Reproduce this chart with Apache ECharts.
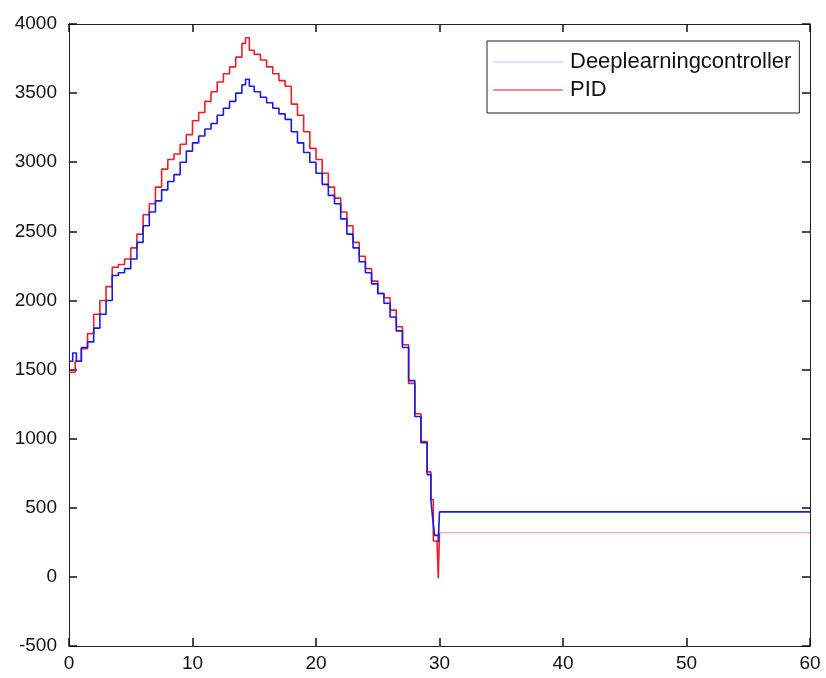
<!DOCTYPE html>
<html>
<head>
<meta charset="utf-8">
<script src="https://cdn.jsdelivr.net/npm/echarts@6/dist/echarts.min.js"></script>
<style>
  html, body { margin: 0; padding: 0; background: #fff; }
  #chart { width: 826px; height: 678px; }
</style>
</head>
<body>
<div id="chart"></div>
<script>
// Time stamps (s) and responses for the two controllers
const dlTime = [0, 0.3, 0.6, 1.0, 1.5, 2.0, 2.5, 3.0, 3.5, 4.0, 4.5, 5.0, 5.5, 6.0, 6.5, 7.0, 7.5, 8.0, 8.5, 9.0, 9.5,
  10.0, 10.5, 11.0, 11.5, 12.0, 12.5, 13.0, 13.5, 14.0, 14.3, 14.6, 15.0, 15.5, 16.0, 16.5, 17.0, 17.5, 18.0, 18.5,
  19.0, 19.5, 20.0, 20.5, 21.0, 21.5, 22.0, 22.5, 23.0, 23.5, 24.0, 24.5, 25.0, 25.5, 26.0, 26.5, 27.0, 27.5, 28.0,
  28.5, 29.0, 29.3, 29.45, 29.6, 29.9, 30.0, 60];
const dlValue = [1560, 1620, 1560, 1660, 1700, 1800, 1900, 2000, 2180, 2200, 2230, 2300, 2420, 2540, 2640, 2720, 2800, 2860, 2910, 3000, 3080,
  3140, 3190, 3240, 3280, 3340, 3390, 3440, 3500, 3560, 3600, 3550, 3510, 3470, 3430, 3390, 3350, 3310, 3220, 3140,
  3070, 3000, 2920, 2840, 2760, 2700, 2590, 2480, 2380, 2280, 2200, 2120, 2050, 1980, 1880, 1780, 1660, 1420, 1160,
  970, 740, 560, 420, 300, 250, 470, 470];

const pidTime = [0, 0.5, 1.0, 1.5, 2.0, 2.5, 3.0, 3.5, 4.0, 4.5, 5.0, 5.5, 6.0, 6.5, 7.0, 7.5, 8.0, 8.5, 9.0, 9.5,
  10.0, 10.5, 11.0, 11.5, 12.0, 12.5, 13.0, 13.5, 14.0, 14.3, 14.6, 15.0, 15.5, 16.0, 16.5, 17.0, 17.5, 18.0, 18.5,
  19.0, 19.5, 20.0, 20.5, 21.0, 21.5, 22.0, 22.5, 23.0, 23.5, 24.0, 24.5, 25.0, 25.5, 26.0, 26.5, 27.0, 27.5, 28.0,
  28.5, 29.0, 29.3, 29.5, 29.8, 29.9, 30.0];
const pidValue = [1480, 1560, 1650, 1760, 1900, 2000, 2100, 2240, 2260, 2300, 2380, 2480, 2620, 2700, 2820, 2950, 3020, 3060, 3130, 3200,
  3300, 3360, 3440, 3510, 3580, 3640, 3690, 3760, 3860, 3900, 3810, 3780, 3740, 3690, 3640, 3590, 3550, 3420, 3340,
  3220, 3100, 3020, 2920, 2820, 2740, 2640, 2540, 2420, 2320, 2230, 2140, 2050, 2020, 1930, 1810, 1680, 1400, 1180,
  980, 760, 560, 260, 250, -10, 320];
// settled PID level after the transient
const pidTailTime = [30.0, 60];
const pidTailValue = [320, 320];

const seriesNames = ['Deeplearningcontroller', 'PID'];
const xTicks = [0, 10, 20, 30, 40, 50, 60];
const yTicks = [-500, 0, 500, 1000, 1500, 2000, 2500, 3000, 3500, 4000];

const zip = (t, v) => t.map((x, i) => [x, v[i]]);

const chart = echarts.init(document.getElementById('chart'), null, { renderer: 'canvas' });

const labelFont = { fontFamily: 'Liberation Sans, Arial, sans-serif', fontSize: 19, color: '#111' };
const plain = v => String(v);

// every side of the box carries inward-pointing ticks
function boxAxis(position, lo, hi, step, label) {
  return {
    type: 'value', position: position, min: lo, max: hi, interval: step,
    axisLine: { show: true, onZero: false, lineStyle: { color: '#222', width: 1 } },
    axisTick: { show: true, inside: true, length: 8, lineStyle: { color: '#111', width: 1.5 } },
    axisLabel: label ? Object.assign({ formatter: plain }, label, labelFont) : { show: false },
    splitLine: { show: false }
  };
}

chart.setOption({
  backgroundColor: '#fff',
  animation: false,
  grid: { left: 69, right: 16, top: 24, bottom: 32 },
  legend: {
    orient: 'vertical',
    left: 487, top: 41,
    padding: [10, 8, 12, 6],
    icon: 'rect',
    itemWidth: 70, itemHeight: 2, itemGap: 6,
    borderColor: '#222', borderWidth: 1, backgroundColor: '#fff',
    textStyle: { fontFamily: 'Liberation Sans, Arial, sans-serif', fontSize: 22, color: '#111', lineHeight: 22, padding: [0, 0, 0, 2] },
    data: [
      { name: seriesNames[0], itemStyle: { color: '#dde3f6' } },
      { name: seriesNames[1], itemStyle: { color: '#f08a95' } }
    ]
  },
  xAxis: [
    boxAxis('bottom', xTicks[0], xTicks[xTicks.length - 1], 10, { margin: 8 }),
    boxAxis('top', xTicks[0], xTicks[xTicks.length - 1], 10, null)
  ],
  yAxis: [
    boxAxis('left', yTicks[0], yTicks[yTicks.length - 1], 500, { margin: 12 }),
    boxAxis('right', yTicks[0], yTicks[yTicks.length - 1], 500, null),
    // unlabelled twin of the left axis that only carries the inward ticks
    Object.assign(boxAxis('left', yTicks[0], yTicks[yTicks.length - 1], 500, null), { offset: 0 })
  ],
  series: [{
    name: seriesNames[0], type: 'line', step: 'end',
    symbol: 'none', showSymbol: false,
    lineStyle: { color: '#1a1ae6', width: 1.6 },
    itemStyle: { color: '#1a1ae6' },
    data: zip(dlTime, dlValue), z: 3
  }, {
    name: seriesNames[1], type: 'line', step: 'end',
    symbol: 'none', showSymbol: false,
    lineStyle: { color: '#e8202a', width: 1.6 },
    itemStyle: { color: '#e8202a' },
    data: zip(pidTime, pidValue), z: 2
  }, {
    name: seriesNames[1], type: 'line',
    symbol: 'none', showSymbol: false,
    lineStyle: { color: '#f6a5ad', width: 1.2 },
    itemStyle: { color: '#f6a5ad' },
    data: zip(pidTailTime, pidTailValue), z: 2
  }]
});
</script>
</body>
</html>
